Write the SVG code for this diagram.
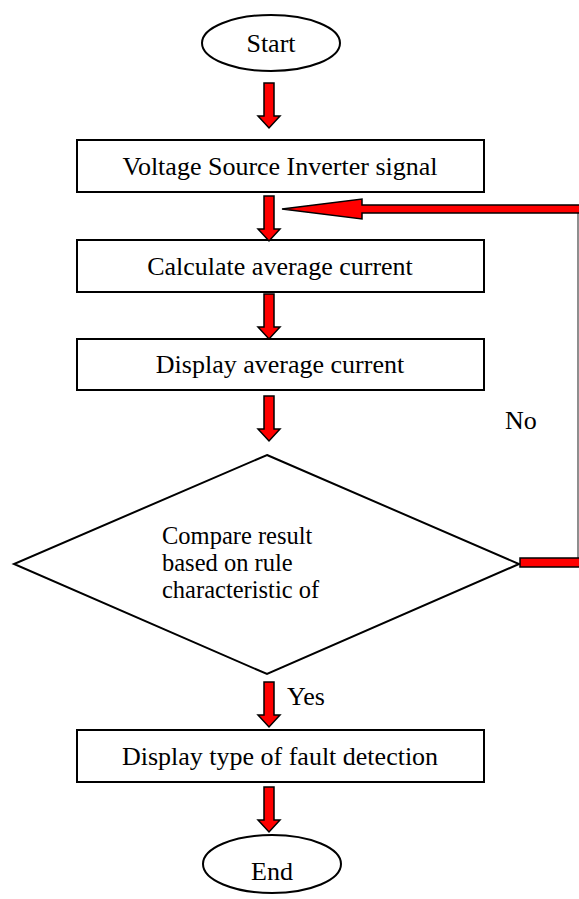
<svg xmlns="http://www.w3.org/2000/svg" width="579" height="899" viewBox="0 0 579 899">
<style>
.shape{fill:#fff;stroke:#000;stroke-width:2}
.t{font-family:"Liberation Serif","Times New Roman",serif;font-size:26px;fill:#000}
.d{font-size:24.5px}
.c{text-anchor:middle}
.arr{fill:#f00;stroke:#000;stroke-width:1.5;stroke-linejoin:miter}
</style>
<defs>
<polygon id="down" points="-5,0 5,0 5,33 11,33 0,45 -11,33 -5,33"/>
</defs>
<rect width="579" height="899" fill="#fff"/>
<g id="start"><ellipse class="shape" cx="271" cy="43" rx="69" ry="28"/><text class="t c" x="271" y="52">Start</text></g>
<g id="vsi"><rect class="shape" x="77" y="140" width="407" height="52"/><text class="t c" x="280" y="175">Voltage Source Inverter signal</text></g>
<g id="calc"><rect class="shape" x="77" y="240" width="407" height="52"/><text class="t c" x="280" y="275">Calculate average current</text></g>
<g id="disp"><rect class="shape" x="77" y="339" width="407" height="51"/><text class="t c" x="280" y="373">Display average current</text></g>
<g id="compare"><polygon class="shape" points="267,455 519,564 267,674 14,564"/>
<text class="t d" x="162" y="544">Compare result</text>
<text class="t d" x="162" y="571">based on rule</text>
<text class="t d" x="162" y="598">characteristic of</text></g>
<g id="fault"><rect class="shape" x="77" y="730" width="407" height="52"/><text class="t c" x="280" y="765">Display type of fault detection</text></g>
<g id="end"><ellipse class="shape" cx="272" cy="864" rx="69" ry="29"/><text class="t c" x="272" y="880">End</text></g>
<g id="connectors">
<use href="#down" class="arr" transform="translate(269,83)"/>
<use href="#down" class="arr" transform="translate(269,196)"/>
<use href="#down" class="arr" transform="translate(269,294)"/>
<use href="#down" class="arr" transform="translate(269,396)"/>
<use href="#down" class="arr" transform="translate(269,682)"/>
<use href="#down" class="arr" transform="translate(269,787)"/>
<line x1="578" y1="205" x2="578" y2="564" stroke="#444" stroke-width="1.2"/>
<rect class="arr" x="520" y="558" width="60" height="9"/>
<polygon class="arr" points="282,209 362,199 362,205 582,205 582,213 362,213 362,219"/>
<text class="t" x="287" y="705">Yes</text>
<text class="t" x="505" y="429">No</text>
</g>
</svg>
